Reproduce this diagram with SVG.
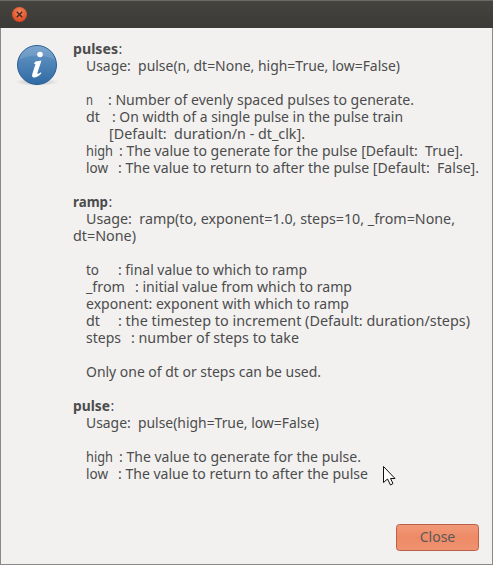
<svg xmlns="http://www.w3.org/2000/svg" width="493" height="565" viewBox="0 0 493 565">
<style>
text{font-family:"Noto Sans","Open Sans","DejaVu Sans",sans-serif;font-size:14px;fill:#4c4c4c;white-space:pre}
.b{font-weight:700}
</style>
<defs>
<linearGradient id="tb" x1="0" y1="0" x2="0" y2="1"><stop offset="0" stop-color="#45443f"/><stop offset="1" stop-color="#3b3a36"/></linearGradient>
<radialGradient id="cb" cx=".5" cy=".35" r=".7"><stop offset="0" stop-color="#f58a5e"/><stop offset="1" stop-color="#d8401a"/></radialGradient>
<linearGradient id="ic" x1="0" y1="0" x2="0" y2="1"><stop offset="0" stop-color="#6a9ac8"/><stop offset="1" stop-color="#2f6aa3"/></linearGradient>
<linearGradient id="btn" x1="0" y1="0" x2="0" y2="1"><stop offset="0" stop-color="#f19a78"/><stop offset=".5" stop-color="#ee8a66"/><stop offset="1" stop-color="#f09270"/></linearGradient>
<radialGradient id="sh"><stop offset="0" stop-color="#000" stop-opacity=".22"/><stop offset="1" stop-color="#000" stop-opacity="0"/></radialGradient>
</defs>
<g id="window">
<rect width="493" height="565" fill="#f2f1f0"/>
<rect width="493" height="28" fill="url(#tb)"/>
<rect y="0" width="493" height="1" fill="#6a6965"/>
<rect x="0" y="28" width="1" height="537" fill="#8a8986"/>
<rect x="492" y="28" width="1" height="537" fill="#8a8986"/>
<rect y="564" width="493" height="1" fill="#8a8986"/>
</g>
<g id="close-x">
<circle cx="19.500" cy="14.500" r="7.500" fill="url(#cb)"/>
<path d="M16.800 11.800L22.200 17.200M22.200 11.800L16.800 17.200" stroke="#4a2a20" stroke-width="1.500"/>
</g>
<g id="info-icon">
<ellipse cx="37" cy="82" rx="22" ry="4" fill="url(#sh)"/>
<circle cx="37" cy="65" r="19.500" fill="url(#ic)" stroke="#2a5f94"/>
<path d="M19 60a18.500 18.500 0 0 1 36 0c-10-6-26-6-36 0z" fill="#fff" opacity=".12"/>
<circle cx="40" cy="54.500" r="2.800" fill="#fff"/>
<path d="M35.500 61.500L41.500 60.500L37.500 72.500Q37 74.500 39 73.500L41 72.200L41.300 73.500Q37.500 77.500 34 77.500Q31.500 77.500 32.300 74L35.500 64L33.800 63.800Z" fill="#fff"/>
</g>
<g id="help-text">
<text x="73" y="54" class="b" textLength="45" lengthAdjust="spacingAndGlyphs">pulses</text><text x="118.500" y="54">:</text>
<text x="86" y="71" textLength="314" lengthAdjust="spacingAndGlyphs">Usage:  pulse(n, dt=None, high=True, low=False)</text>
<text x="86" y="105" textLength="7" lengthAdjust="spacingAndGlyphs">n</text><text x="108" y="105" textLength="306" lengthAdjust="spacingAndGlyphs">: Number of evenly spaced pulses to generate.</text>
<text x="86" y="122" textLength="14" lengthAdjust="spacingAndGlyphs">dt</text><text x="112" y="122" textLength="291" lengthAdjust="spacingAndGlyphs">: On width of a single pulse in the pulse train</text>
<text x="109" y="139" textLength="196" lengthAdjust="spacingAndGlyphs">[Default:  duration/n - dt_clk].</text>
<text x="86" y="156" textLength="27" lengthAdjust="spacingAndGlyphs">high</text><text x="119" y="156" textLength="344" lengthAdjust="spacingAndGlyphs">: The value to generate for the pulse [Default:  True].</text>
<text x="86" y="173" textLength="22" lengthAdjust="spacingAndGlyphs">low</text><text x="118" y="173" textLength="361" lengthAdjust="spacingAndGlyphs">: The value to return to after the pulse [Default:  False].</text>
<text x="73" y="207" class="b" textLength="35" lengthAdjust="spacingAndGlyphs">ramp</text><text x="108.500" y="207">:</text>
<text x="86" y="224" textLength="369" lengthAdjust="spacingAndGlyphs">Usage:  ramp(to, exponent=1.0, steps=10, _from=None,</text>
<text x="73" y="241" textLength="63" lengthAdjust="spacingAndGlyphs">dt=None)</text>
<text x="86" y="275" textLength="13" lengthAdjust="spacingAndGlyphs">to</text><text x="118" y="275" textLength="189" lengthAdjust="spacingAndGlyphs">: final value to which to ramp</text>
<text x="86" y="292" textLength="39" lengthAdjust="spacingAndGlyphs">_from</text><text x="135" y="292" textLength="217" lengthAdjust="spacingAndGlyphs">: initial value from which to ramp</text>
<text x="86" y="309" textLength="263" lengthAdjust="spacingAndGlyphs">exponent: exponent with which to ramp</text>
<text x="86" y="326" textLength="14" lengthAdjust="spacingAndGlyphs">dt</text><text x="118" y="326" textLength="352" lengthAdjust="spacingAndGlyphs">: the timestep to increment (Default: duration/steps)</text>
<text x="86" y="343" textLength="35" lengthAdjust="spacingAndGlyphs">steps</text><text x="131" y="343" textLength="168" lengthAdjust="spacingAndGlyphs">: number of steps to take</text>
<text x="86" y="377" textLength="235" lengthAdjust="spacingAndGlyphs">Only one of dt or steps can be used.</text>
<text x="73" y="411" class="b" textLength="37" lengthAdjust="spacingAndGlyphs">pulse</text><text x="110.500" y="411">:</text>
<text x="86" y="428" textLength="233" lengthAdjust="spacingAndGlyphs">Usage:  pulse(high=True, low=False)</text>
<text x="86" y="462" textLength="27" lengthAdjust="spacingAndGlyphs">high</text><text x="119" y="462" textLength="242" lengthAdjust="spacingAndGlyphs">: The value to generate for the pulse.</text>
<text x="86" y="479" textLength="22" lengthAdjust="spacingAndGlyphs">low</text><text x="118" y="479" textLength="250" lengthAdjust="spacingAndGlyphs">: The value to return to after the pulse</text>
</g>
<g id="cursor">
<path d="M383.500 466.500V482.500L387.500 479L390.500 485L393 483.500L390.500 478.500H395Z" fill="#fff" stroke="#111" stroke-width="1"/>
</g>
<g id="close-button">
<rect x="396.500" y="524.500" width="82" height="26" rx="3" fill="url(#btn)" stroke="#b8604a"/>
<text x="437.500" y="542" text-anchor="middle" style="fill:#5a5a5a;font-size:14px">Close</text>
</g>
</svg>
